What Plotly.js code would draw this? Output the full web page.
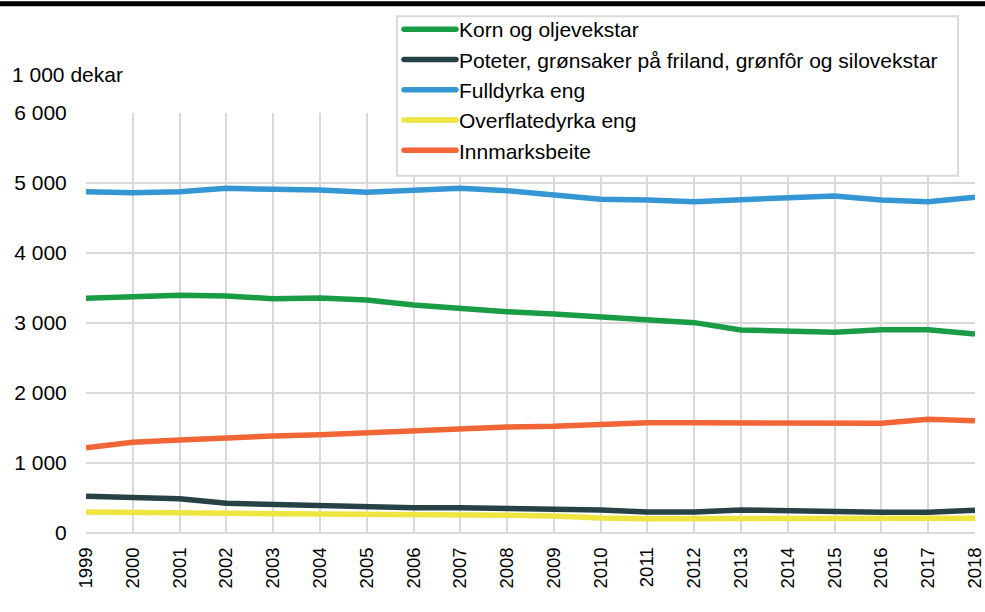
<!DOCTYPE html>
<html>
<head>
<meta charset="utf-8">
<script src="https://cdn.plot.ly/plotly-3.0.1.min.js"></script>
<style>html,body{margin:0;padding:0;background:#fff;}#chart{width:985px;height:612px;}</style>
</head>
<body>
<div id="chart"></div>
<script>
const years = [1999,2000,2001,2002,2003,2004,2005,2006,2007,2008,2009,2010,2011,2012,2013,2014,2015,2016,2017,2018];
const korn = [3352,3367,3395,3386,3348,3357,3329,3257,3200,3162,3127,3081,3052,3005,2900,2881,2867,2905,2905,2843];
const poteter = [524,500,490,424,405,386,362,362,362,352,343,329,300,300,329,319,295,295,295,324];
const fulldyrka = [4876,4861,4876,4924,4910,4900,4867,4900,4924,4890,4829,4767,4757,4733,4762,4795,4814,4757,4733,4795];
const overflate = [300,290,281,276,276,271,271,267,262,252,243,214,205,205,205,205,205,205,205,209];
const innmark = [1219,1295,1329,1362,1386,1405,1433,1462,1500,1514,1524,1557,1576,1576,1576,1567,1567,1567,1624,1605];
const seriesNames = ["Korn og oljevekstar","Poteter, grønsaker på friland, grønfôr og silovekstar","Fulldyrka eng","Overflatedyrka eng","Innmarksbeite"];
const seriesColors = ["#1a9c45","#264247","#3596d4","#efe541","#f26536"];
const yTickVals = [0,1000,2000,3000,4000,5000,6000];
const yTickText = ["0","1 000","2 000","3 000","4 000","5 000","6 000"];

const allY = [korn, poteter, fulldyrka, overflate, innmark];
const traces = allY.map((y,i)=>({
  x: years, y: y, type: 'scatter', mode: 'lines', name: seriesNames[i],
  line: {color: seriesColors[i], width: 5.5}
}));

const W = 985, H = 612, L = 86, R = 10, T = 112, B = 79;
const pw = W - L - R, ph = H - T - B;
const fam = '"Liberation Sans", Arial, sans-serif';
const px = v => (v - L) / pw;
const py = v => 1 + (T - v) / ph;

const layout = {
  width: W, height: H,
  margin: {l: L, r: R, t: T, b: B, pad: 0},
  paper_bgcolor: '#fff', plot_bgcolor: '#fff',
  font: {family: fam, size: 21, color: '#000'},
  showlegend: true,
  legend: {
    x: px(399), y: py(9), xanchor: 'left', yanchor: 'top',
    bgcolor: 'rgba(0,0,0,0)', borderwidth: 0,
    font: {family: fam, size: 21, color: '#000'},
    itemwidth: 50
  },
  xaxis: {
    range: [1998.999, 2018.001], tickvals: years, ticktext: years.map(String), tickangle: -90,
    showgrid: true, gridcolor: '#d9d9d9', gridwidth: 2, ticklabeloverflow: 'allow',
    showline: false, zeroline: false, ticks: 'outside', ticklen: 6, tickcolor: 'rgba(0,0,0,0)',
    tickfont: {family: fam, size: 18.5, color: '#000'}
  },
  yaxis: {
    range: [0, 6000], tickvals: yTickVals, ticktext: yTickText,
    showgrid: true, gridcolor: '#d9d9d9', gridwidth: 2,
    showline: false, zeroline: true, zerolinecolor: '#d9d9d9', zerolinewidth: 2,
    ticks: 'outside', ticklen: 14, tickcolor: 'rgba(0,0,0,0)',
    tickfont: {family: fam, size: 21, color: '#000'}
  },
  annotations: [{
    text: '1 000 dekar', xref: 'paper', yref: 'paper',
    x: px(10), y: py(73), xanchor: 'left', yanchor: 'middle',
    showarrow: false, font: {family: fam, size: 21, color: '#000'}
  }],
  shapes: [
    {
      type: 'rect', xref: 'paper', yref: 'paper', layer: 'above',
      x0: px(-1), x1: px(986), y0: py(5), y1: py(0),
      fillcolor: '#000', line: {width: 0}
    },
    {
      type: 'rect', xref: 'paper', yref: 'paper', layer: 'above',
      x0: px(397), x1: px(958), y0: py(175), y1: py(15),
      fillcolor: '#fff', line: {color: '#d9d9d9', width: 2}
    }
  ]
};

Plotly.newPlot('chart', traces, layout, {displayModeBar: false, staticPlot: true}).then(gd => {
  gd.querySelectorAll('.legendlines path').forEach(p => {
    p.setAttribute('d', 'M5,0h52');
    p.style.strokeLinecap = 'round';
  });
});
</script>
</body>
</html>
